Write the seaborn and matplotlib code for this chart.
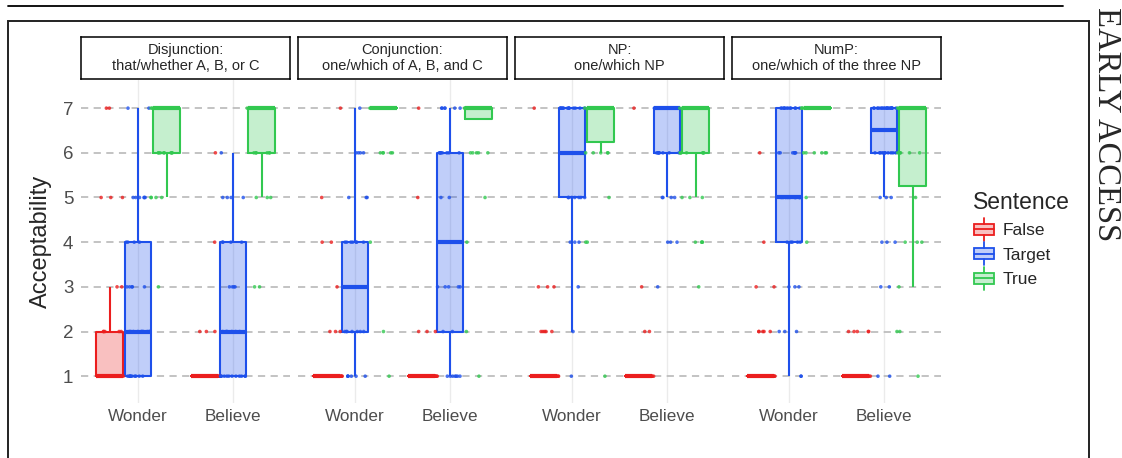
import numpy as np
import pandas as pd
import seaborn as sns
import matplotlib.pyplot as plt
from matplotlib.patches import Rectangle
from matplotlib.lines import Line2D
from matplotlib.legend_handler import HandlerBase


levels = [1, 2, 3, 4, 5, 6, 7]
panels = [
    "Disjunction:\nthat/whether A, B, or C",
    "Conjunction:\none/which of A, B, and C",
    "NP:\none/which NP",
    "NumP:\none/which of the three NP",
]
verbs = ["Wonder", "Believe"]
sentences = ["False", "Target", "True"]

# number of responses at each rating 1..7
disj_wonder_false = [24, 5, 2, 0, 3, 0, 2]
disj_wonder_target = [10, 10, 5, 4, 6, 0, 2]
disj_wonder_true = [0, 0, 1, 0, 4, 8, 24]
disj_believe_false = [30, 3, 0, 1, 0, 1, 0]
disj_believe_target = [12, 6, 4, 4, 4, 1, 0]
disj_believe_true = [0, 0, 2, 0, 3, 6, 22]

conj_wonder_false = [28, 3, 1, 2, 1, 0, 1]
conj_wonder_target = [6, 7, 7, 7, 3, 4, 1]
conj_wonder_true = [1, 1, 0, 1, 0, 5, 26]
conj_believe_false = [28, 3, 0, 0, 1, 0, 1]
conj_believe_target = [7, 2, 5, 3, 2, 8, 6]
conj_believe_true = [1, 1, 0, 1, 1, 5, 27]

np_wonder_false = [28, 5, 3, 0, 0, 0, 1]
np_wonder_target = [1, 1, 1, 3, 7, 7, 14]
np_wonder_true = [1, 0, 0, 2, 1, 5, 25]
np_believe_false = [30, 2, 1, 0, 0, 0, 1]
np_believe_target = [0, 0, 1, 3, 4, 8, 20]
np_believe_true = [0, 0, 1, 4, 3, 7, 18]

nump_wonder_false = [30, 5, 2, 1, 0, 1, 0]
nump_wonder_target = [2, 3, 3, 5, 10, 7, 12]
nump_wonder_true = [0, 0, 0, 1, 1, 6, 26]
nump_believe_false = [30, 5, 0, 0, 0, 0, 0]
nump_believe_target = [2, 0, 2, 3, 3, 11, 21]
nump_believe_true = [1, 2, 1, 3, 1, 6, 16]

count_table = [
    [disj_wonder_false, disj_wonder_target, disj_wonder_true,
     disj_believe_false, disj_believe_target, disj_believe_true],
    [conj_wonder_false, conj_wonder_target, conj_wonder_true,
     conj_believe_false, conj_believe_target, conj_believe_true],
    [np_wonder_false, np_wonder_target, np_wonder_true,
     np_believe_false, np_believe_target, np_believe_true],
    [nump_wonder_false, nump_wonder_target, nump_wonder_true,
     nump_believe_false, nump_believe_target, nump_believe_true],
]

rows = []
for p, panel in enumerate(panels):
    for v, verb in enumerate(verbs):
        for s, sent in enumerate(sentences):
            cnt = count_table[p][v * 3 + s]
            for r in np.repeat(levels, cnt):
                rows.append({"Panel": panel, "Verb": verb, "Sentence": sent, "Rating": r})
df = pd.DataFrame(rows)

dark = {"False": "#EB1E1E", "Target": "#1E50EB", "True": "#32C850"}

sns.set_style("white")
plt.rcParams["font.family"] = ["Liberation Sans", "DejaVu Sans"]

W, H = 1122, 458
fig = plt.figure(figsize=(W / 100, H / 100), dpi=100)

panel_left = [81, 298, 515, 732]
panel_w = 209
top, bottom = 80, 403

for i, panel in enumerate(panels):
    ax = fig.add_axes([panel_left[i] / W, 1 - bottom / H, panel_w / W, (bottom - top) / H])
    sub = df[df.Panel == panel]
    common = dict(data=sub, x="Verb", y="Rating", hue="Sentence", order=verbs,
                  hue_order=sentences, palette=dark, legend=False, ax=ax)
    # translucent fill layer
    sns.boxplot(**common, saturation=1, width=0.9, gap=0.06, showfliers=False,
                showcaps=False, linewidth=0, whiskerprops=dict(linewidth=0),
                medianprops=dict(linewidth=0))
    for patch in ax.patches:
        patch.set_alpha(0.28)
    # coloured outline layer
    sns.boxplot(**common, saturation=1, fill=False, width=0.9, gap=0.06,
                showfliers=False, showcaps=False, linewidth=1.5,
                medianprops=dict(linewidth=3))
    sns.stripplot(**common, dodge=True, jitter=0.4, size=2.6, alpha=0.8,
                  linewidth=0, zorder=4)

    ax.set_xlim(-0.6, 1.6)
    ax.set_ylim(0.4, 7.63)
    ax.set_yticks(levels)
    ax.set_xlabel("")
    ax.set_ylabel("")
    ax.set_axisbelow(True)
    ax.yaxis.grid(True, color="#BEBEBE", lw=1.3, ls=(0, (4, 3)))
    ax.xaxis.grid(True, color="#EBEBEB", lw=1)
    for sp in ax.spines.values():
        sp.set_visible(False)
    ax.tick_params(length=0, colors="#4D4D4D")
    ax.tick_params(axis="x", labelsize=12.3, pad=4)
    ax.tick_params(axis="y", labelsize=13.5, pad=5.5)
    if i > 0:
        ax.tick_params(axis="y", labelleft=False)

    # facet strip
    sax = fig.add_axes([panel_left[i] / W, 1 - 79 / H, panel_w / W, 42 / H])
    sax.set_xticks([])
    sax.set_yticks([])
    for sp in sax.spines.values():
        sp.set_color("black")
        sp.set_linewidth(1.1)
    sax.text(0.5, 0.5, panel, ha="center", va="center", fontsize=10.5,
             linespacing=1.15, transform=sax.transAxes)

fig.text(41 / W, 1 - 241.5 / H, "Acceptability", rotation=90, ha="center",
         va="center", fontsize=17)


# legend key that looks like a small boxplot
class BoxKey(HandlerBase):
    def create_artists(self, legend, orig_handle, xdescent, ydescent, width,
                       height, fontsize, trans):
        c = orig_handle.get_edgecolor()
        x0, y0 = -xdescent, -ydescent
        cx, cy = x0 + width / 2, y0 + height / 2
        box = Rectangle((x0 + 1, y0 + 0.15 * height), width - 2, 0.7 * height,
                        facecolor=(*c[:3], 0.28), edgecolor=c, lw=1.3, transform=trans)
        med = Line2D([x0 + 1, x0 + width - 1], [cy, cy], color=c, lw=1.3, transform=trans)
        wl = Line2D([cx, cx], [y0 - 0.25 * height, y0 + 0.15 * height], color=c, lw=1.3,
                    transform=trans)
        wh = Line2D([cx, cx], [y0 + 0.85 * height, y0 + 1.25 * height], color=c, lw=1.3,
                    transform=trans)
        return [box, med, wl, wh]


handles = [Rectangle((0, 0), 1, 1, edgecolor=dark[s]) for s in sentences]
fig.legend(handles, sentences, title="Sentence", loc="upper left",
           bbox_to_anchor=(964 / W, 1 - 182 / H), frameon=False, fontsize=12.5,
           title_fontsize=16.5, handler_map={Rectangle: BoxKey()},
           handlelength=1.3, handleheight=1.0, handletextpad=0.45,
           labelspacing=0.45, borderpad=0, alignment="left")

# page decoration: rule, frame and side label
fig.add_artist(Line2D([8 / W, 1063 / W], [1 - 6 / H, 1 - 6 / H], color="black", lw=1.3,
                      transform=fig.transFigure))
fig.add_artist(Rectangle((8 / W, -0.1), (1089 - 8) / W, 1.1 - 21 / H, fill=False,
                         ec="#222222", lw=1.4, transform=fig.transFigure))
fig.text(1106 / W, 1 - 124 / H, "EARLY ACCESS", rotation=270, ha="center",
         va="center", fontsize=23.5, family=["Liberation Serif", "DejaVu Serif"])

fig.savefig("out.png", dpi=100)
